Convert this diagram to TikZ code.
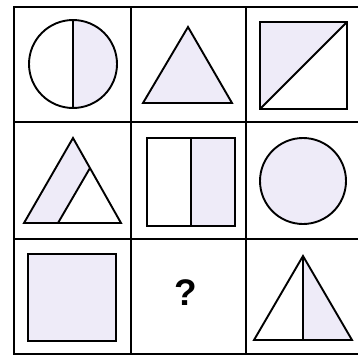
\documentclass[tikz,border=0pt]{standalone}
\usepackage{fontspec}
\newfontfamily\qfont{Liberation Sans}
\usepackage{xcolor}
\definecolor{lilac}{HTML}{EEEBF8}
\usepackage{tikz}
\begin{document}
\begin{tikzpicture}[x=1pt, y=-1pt, line join=miter,
  fig/.style={draw=black, line width=1.9pt},
  tint/.style={fill=lilac},
  qmark/.style={font=\qfont\bfseries\fontsize{37}{37}\selectfont, inner sep=0pt}]
  \clip (0,0) rectangle (358,356);
  \draw[fig] (14,7) rectangle (362,354);
  \draw[fig] (131,7) -- (131,354) (246,7) -- (246,354);
  \draw[fig] (14,122) -- (362,122) (14,239) -- (362,239);
  \fill[tint] (73,20) arc[start angle=-90, end angle=90, radius=44] -- cycle;
  \draw[fig] (73,64) circle[radius=44] (73,20) -- (73,108);
  \draw[fig, tint] (188,27) -- (143,103) -- (232,103) -- cycle;
  \fill[tint] (260,22) -- (347,22) -- (260,109) -- cycle;
  \draw[fig] (260,22) rectangle (347,109) (260,109) -- (347,22);
  \fill[tint] (73,138) -- (24,223) -- (58,223) -- (90,168) -- cycle;
  \draw[fig] (73,138) -- (24,223) -- (121,223) -- cycle (58,223) -- (90,168);
  \fill[tint] (191,138) rectangle (235,226);
  \draw[fig] (147,138) rectangle (235,226) (191,138) -- (191,226);
  \draw[fig, tint] (303,181) circle[radius=43];
  \draw[fig, tint] (28,254) rectangle (116,341);
  \node[qmark] (q) at (186,293) {?};
  \fill[tint] (303,256) -- (352,340) -- (303,340) -- cycle;
  \draw[fig] (303,256) -- (254,340) -- (352,340) -- cycle (303,256) -- (303,340);
\end{tikzpicture}
\end{document}
